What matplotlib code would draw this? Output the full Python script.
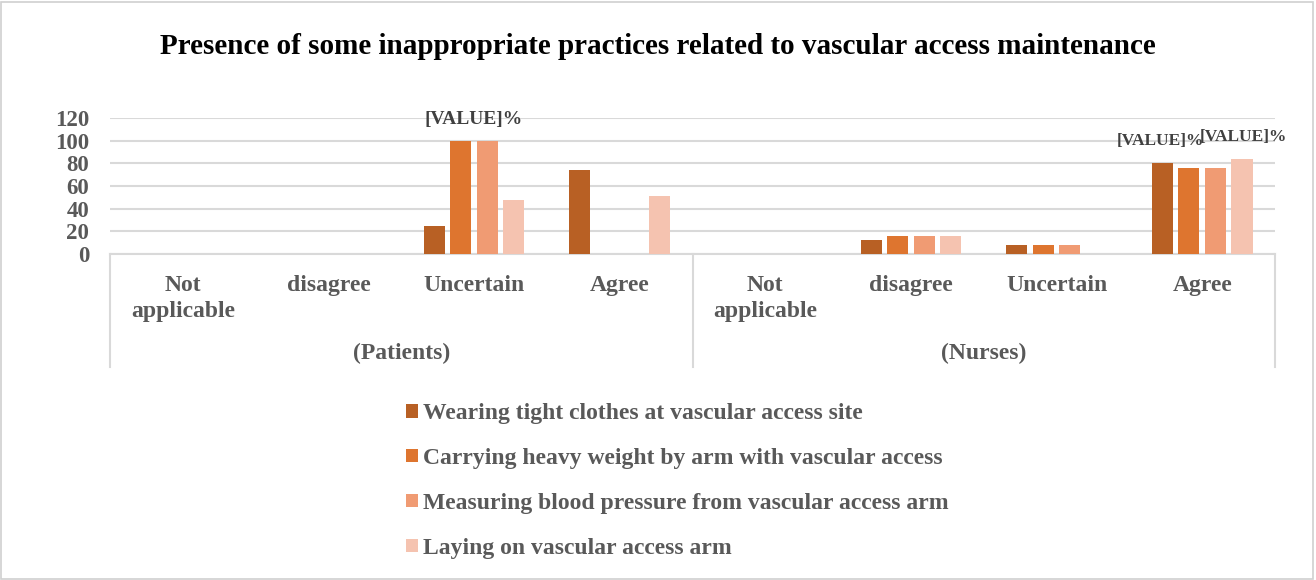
import matplotlib.pyplot as plt
from matplotlib.patches import Rectangle
import numpy as np

plt.rcParams['font.family'] = ['Liberation Serif', 'DejaVu Serif']
plt.rcParams['font.weight'] = 'bold'

groups = ['(Patients)', '(Nurses)']
responses = ['Not\napplicable', 'disagree', 'Uncertain', 'Agree']
series = ['Wearing tight clothes at vascular access site',
          'Carrying heavy weight by arm with vascular access',
          'Measuring blood pressure from vascular access arm',
          'Laying on vascular access arm']
# values per category: patients (4 responses) then nurses (4 responses)
tight_clothes = [0, 0, 25, 74, 0, 12, 8, 80]
heavy_weight = [0, 0, 100, 0, 0, 16, 8, 76]
blood_pressure = [0, 0, 100, 0, 0, 16, 8, 76]
laying_on_arm = [0, 0, 48, 51, 0, 16, 0, 84]
yticks = [0, 20, 40, 60, 80, 100, 120]

colors = ['#B86024', '#DE752F', '#F09B73', '#F5C3B0']
grey = '#595959'
linegrey = '#D9D9D9'

fig = plt.figure(figsize=(13.16, 5.8), dpi=100)
fig.patches.append(Rectangle((0.001, 0.002), 0.997, 0.995, transform=fig.transFigure,
                             fill=False, edgecolor='#D0D0D0', linewidth=1.2))
ax = fig.add_axes([110 / 1316, 1 - 254 / 580, 1165 / 1316, 136 / 580])

x = np.arange(8) + 0.5
width = 0.145
step = 0.182
data = [tight_clothes, heavy_weight, blood_pressure, laying_on_arm]
for i, (vals, c, lab) in enumerate(zip(data, colors, series)):
    ax.bar(x + (i - 1.5) * step, vals, width, color=c, label=lab, zorder=3)

ax.set_xlim(0, 8)
ax.set_ylim(0, 120)
ax.set_yticks(yticks)
ax.set_yticklabels([str(v) for v in yticks], fontsize=16.5, color=grey, fontweight='bold')
ax.tick_params(axis='y', length=0, pad=15)
ax.set_xticks([])
ax.grid(axis='y', color=linegrey, linewidth=1.5, zorder=0)
for s in ['top', 'right', 'left']:
    ax.spines[s].set_visible(False)
ax.spines['bottom'].set_color(linegrey)
ax.spines['bottom'].set_linewidth(1.5)

# multi-level category axis
tr = ax.get_xaxis_transform()
for xv in [0, 4, 8]:
    ax.plot([xv, xv], [0, -0.83], transform=tr, color=linegrey, lw=1.5, clip_on=False)
for k in range(8):
    ax.text(x[k], -0.155, responses[k % 4], transform=tr, ha='center', va='top',
            fontsize=17, color=grey, fontweight='bold', linespacing=1.3)
for g, gx in zip(groups, [2, 6]):
    ax.text(gx, -0.73, g, transform=tr, ha='center', va='center',
            fontsize=17, color=grey, fontweight='bold')

# data labels left as placeholders
ax.text(2.5, 118.5, '[VALUE]%', ha='center', va='center', fontsize=14,
        color='#404040', fontweight='bold')
ax.text(7.21, 100, '[VALUE]%', ha='center', va='center', fontsize=12.5,
        color='#404040', fontweight='bold')
ax.text(7.78, 103, '[VALUE]%', ha='center', va='center', fontsize=12.5,
        color='#404040', fontweight='bold')

fig.text(0.5, 1 - 47 / 580, 'Presence of some inappropriate practices related to vascular access maintenance',
         ha='center', va='center', fontsize=21, fontweight='bold', color='black')

fig.legend(loc='upper left', bbox_to_anchor=(385 / 1316, 1 - 382 / 580), frameon=False,
           prop={'size': 17, 'weight': 'bold'}, labelcolor=grey,
           handlelength=0.5, handleheight=0.5, handletextpad=0.2, labelspacing=1.01)

fig.savefig('out.png', dpi=100)
